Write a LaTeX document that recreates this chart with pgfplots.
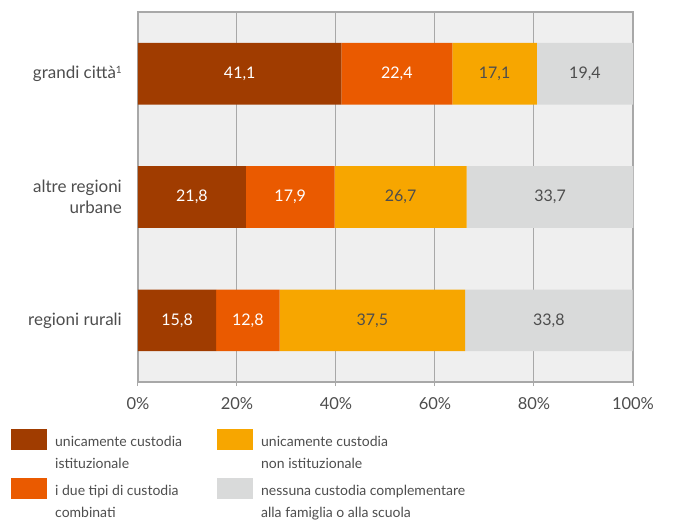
\documentclass[border=0pt]{standalone}
\usepackage{fontspec}
\setmainfont{Lato}
\usepackage{pgfplots}
\pgfplotsset{compat=1.18}

\definecolor{cIst}{HTML}{A03C00}
\definecolor{cComb}{HTML}{EA5A00}
\definecolor{cNonIst}{HTML}{F7A600}
\definecolor{cNess}{HTML}{D9DADA}
\definecolor{bgpanel}{HTML}{EFEFEF}
\definecolor{axgray}{HTML}{A8A8A8}
\definecolor{txt}{HTML}{4D4D4D}

\begin{document}
\begin{tikzpicture}[font=\fontsize{14}{21}\selectfont, text=txt]
\path[use as bounding box] (-138pt,-140pt) rectangle (535pt,382pt);
\begin{axis}[
  scale only axis,
  width=495pt, height=370pt,
  xbar stacked,
  bar width=0.5,
  xmin=0, xmax=100,
  ymin=-0.5, ymax=2.5,
  y dir=reverse,
  clip=false,
  ytick={0,1,2},
  yticklabels={grandi città\raisebox{0.6ex}{\fontsize{10}{10}\selectfont 1}, {altre regioni\\urbane}, regioni rurali},
  ticklabel style={text=txt},
  yticklabel style={align=right, inner sep=0pt, xshift=-12pt, font=\fontsize{17}{21}\selectfont},
  xtick={0,20,...,100},
  xticklabel={\pgfmathprintnumber{\tick}\%},
  xticklabel style={yshift=-8pt, font=\fontsize{16.5}{20}\selectfont},
  /pgf/number format/assume math mode=true,
  tick align=outside,
  xtick pos=lower,
  ytick style={draw=none},
  major tick length=4pt,
  xtick style={axgray, line width=1pt},
  xmajorgrids,
  grid style={axgray, line width=1pt},
  axis line style={axgray, line width=1.4pt},
  axis background/.style={fill=bgpanel},
  nodes near coords={\pgfmathprintnumber[use comma,fixed,fixed zerofill,precision=1]{\pgfplotspointmeta}},
  every node near coord/.append style={font=\fontsize{16}{18}\selectfont},
  legend columns=2,
  transpose legend,
  legend style={at={(-0.2566,-0.127)}, anchor=north west, draw=none, fill=none,
    inner sep=0pt, row sep=10pt,
    cells={anchor=base west},
    nodes={inner sep=0pt, text depth=, text=txt},
    font=\fontsize{14}{22}\selectfont,
    /tikz/every odd column/.append style={column sep=8pt},
    /tikz/every even column/.append style={column sep=12pt}},
  legend image code/.code={\fill[#1,draw=none] (0pt,-4pt) rectangle (36pt,17pt);},
]
\addplot+[fill=cIst, draw=none, every node near coord/.append style={text=white}] coordinates {
  (41.1,0) (21.8,1) (15.8,2)
};
\addlegendentry{\parbox[t]{150pt}{\raggedright unicamente custodia\\istituzionale}}
\addplot+[fill=cComb, draw=none, every node near coord/.append style={text=white}] coordinates {
  (22.4,0) (17.9,1) (12.8,2)
};
\addlegendentry{\parbox[t]{150pt}{\raggedright i due tipi di custodia\\combinati}}
\addplot+[fill=cNonIst, draw=none, every node near coord/.append style={text=txt}] coordinates {
  (17.1,0) (26.7,1) (37.5,2)
};
\addlegendentry{\parbox[t]{250pt}{\raggedright unicamente custodia\\non istituzionale}}
\addplot+[fill=cNess, draw=none, every node near coord/.append style={text=txt}] coordinates {
  (19.4,0) (33.7,1) (33.8,2)
};
\addlegendentry{\parbox[t]{250pt}{\raggedright nessuna custodia complementare\\alla famiglia o alla scuola}}
\end{axis}
\end{tikzpicture}
\end{document}
